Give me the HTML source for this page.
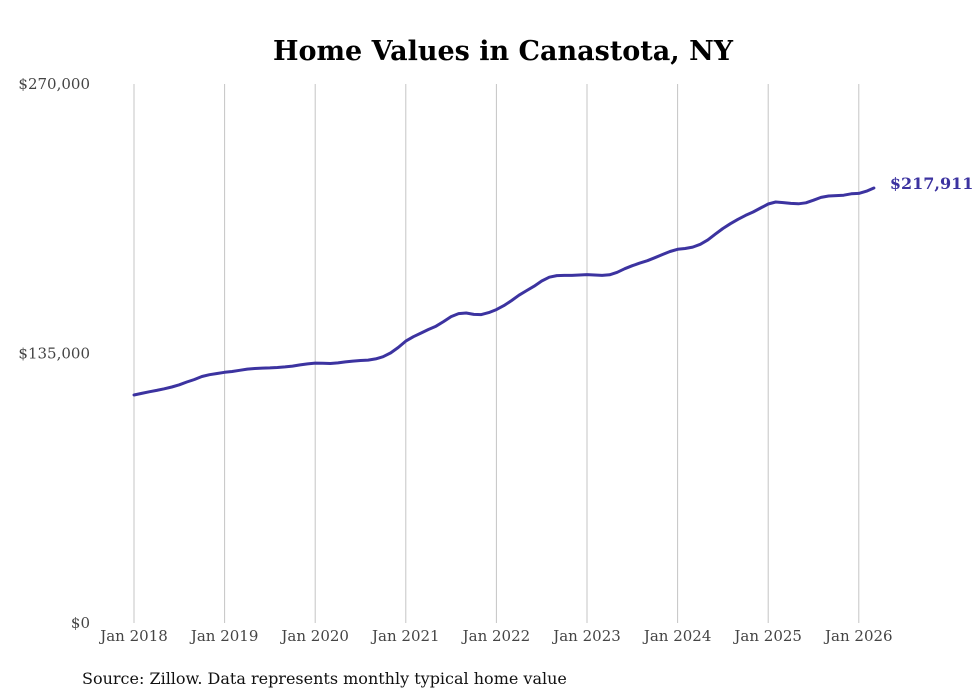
<!DOCTYPE html>
<html><head><meta charset="utf-8"><style>
body{margin:0;background:#fff;width:980px;height:699px;overflow:hidden}
svg{display:block}
text{font-family:"DejaVu Serif","Liberation Serif",serif}
</style></head><body>
<svg id="chart" width="980" height="699">
<text x="503" y="60" text-anchor="middle" font-size="27" font-weight="bold" fill="#000">Home Values in Canastota, NY</text>
<g id="grid"></g><g id="ylabels"></g><g id="xlabels"></g><g id="series"></g>
<text x="82" y="684" font-size="16" fill="#111">Source: Zillow. Data represents monthly typical home value</text>
</svg>
<script>
const startYear = 2018;
const xTickLabels = ["Jan 2018","Jan 2019","Jan 2020","Jan 2021","Jan 2022","Jan 2023","Jan 2024","Jan 2025","Jan 2026"];
const yTicks = [0,135000,270000];
const yTickLabels = ["$0","$135,000","$270,000"];
const values2018 = [114200,115000,115800,116500,117300,118200,119300,120700,122000,123500,124400,125000];
const values2019 = [125600,126000,126600,127200,127500,127700,127800,128000,128300,128700,129300,129800];
const values2020 = [130200,130100,130000,130300,130800,131200,131500,131700,132300,133400,135300,138000];
const values2021 = [141200,143400,145200,147000,148700,151000,153500,155000,155300,154600,154500,155500];
const values2022 = [157000,159000,161500,164200,166500,168700,171300,173200,174000,174100,174100,174300];
const values2023 = [174500,174300,174100,174400,175700,177500,179000,180300,181500,183000,184600,186100];
const values2024 = [187200,187600,188300,189700,191900,194800,197600,200000,202200,204200,205900,207900];
const values2025 = [209900,210900,210600,210200,210000,210500,211800,213200,213900,214100,214300,215000];
const values2026 = [215200,216300,217911];
const endLabel = "$217,911";
const values = [].concat(values2018,values2019,values2020,values2021,values2022,values2023,values2024,values2025,values2026);

const NS="http://www.w3.org/2000/svg";
const x0=134, yearW=90.6, yBase=623, yTop=84, yMax=270000;
const xs = m => x0 + m/12*yearW;
const ys = v => yBase - v/yMax*(yBase-yTop);
function mk(tag,attrs,parent){const e=document.createElementNS(NS,tag);for(const k in attrs)e.setAttribute(k,attrs[k]);parent.appendChild(e);return e;}
const grid=document.getElementById('grid'), xl=document.getElementById('xlabels'), yl=document.getElementById('ylabels'), ser=document.getElementById('series');
xTickLabels.forEach((lab,i)=>{
  const x=xs(i*12);
  const l=mk('line',{x1:x,x2:x,y1:yTop,y2:yBase,stroke:'#c4c4c4','stroke-width':1},grid);
  
  
  const t=mk('text',{x:x,y:641,'text-anchor':'middle','font-size':15,fill:'#444'},xl);
  t.textContent=lab;
  
  
});
yTicks.forEach((v,i)=>{
  const t=mk('text',{x:90,y:ys(v)+5,'text-anchor':'end','font-size':15,fill:'#444'},yl);
  t.textContent=yTickLabels[i];
  
  
});
const d=values.map((v,i)=>(i?'L':'M')+xs(i).toFixed(1)+','+ys(v).toFixed(1)).join(' ');
const p=mk('path',{d:d,fill:'none',stroke:'#3c33a0','stroke-width':3,'stroke-linejoin':'round','stroke-linecap':'round'},ser);


const li=values.length-1;
const et=mk('text',{x:xs(li)+16,y:ys(values[li])+1,'font-size':16,'font-weight':'bold',fill:'#3c33a0'},ser);
et.textContent=endLabel;


</script>
</body></html>
